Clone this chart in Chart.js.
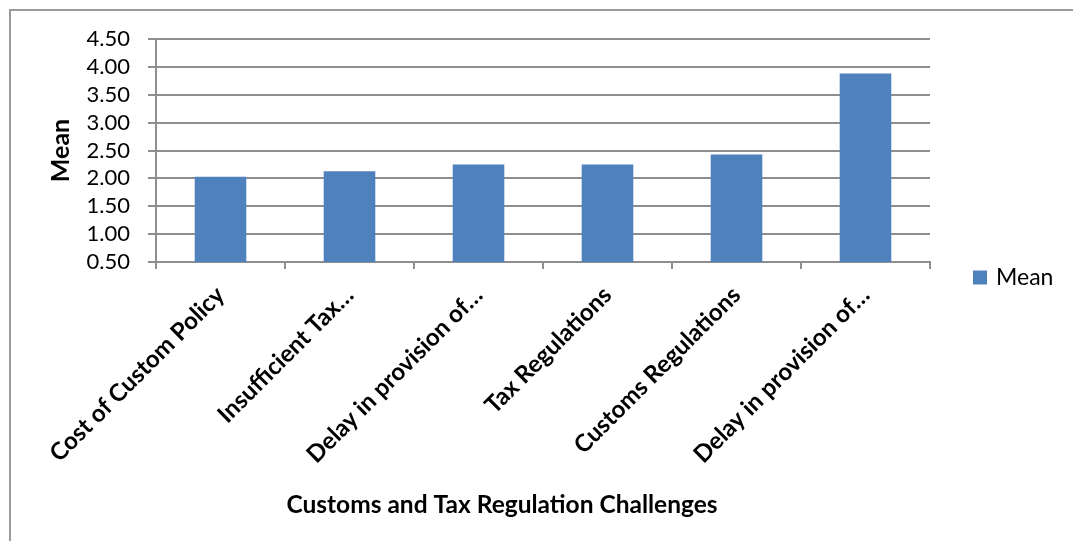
<!DOCTYPE html>
<html>
<head>
<meta charset="utf-8">
<script src="https://cdn.jsdelivr.net/npm/chart.js@4"></script>
<style>
    html, body { margin: 0; padding: 0; background: #fff; overflow: hidden; }
    #frame {
        position: absolute; left: 9px; top: 9px; width: 1100px; height: 560px;
        border: 2px solid #9a9a9a; box-sizing: border-box;
    }
    #wrap { position: absolute; left: 0; top: 0; width: 1073px; height: 541px; }
</style>
</head>
<body>
<div id="frame"></div>
<div id="wrap"><canvas id="meanChart"></canvas></div>
<script>
// categories as they appear on the axis (long names are cut off)
const categories = [
    'Cost of Custom Policy',
    'Insufficient Tax…',
    'Delay in provision of…',
    'Tax Regulations',
    'Customs Regulations',
    'Delay in provision of…'
];
const meanValues = [2.03, 2.13, 2.25, 2.25, 2.43, 3.88];
const yMin = 0.5;
const yMax = 4.5;
const yStep = 0.5;
const xTitle = 'Customs and Tax Regulation Challenges';
const yTitle = 'Mean';

const fontFamily = 'Lato, "Open Sans", sans-serif';
const gridColor = '#8e8e8e';
const barColor = '#4f81bd';

// x axis title and the legend sit off-centre, so they are drawn by hand
const extras = {
    id: 'extras',
    afterDraw(chart) {
        const c = chart.ctx;
        const area = chart.chartArea;
        const ds = chart.data.datasets[0];
        c.save();
        c.fillStyle = '#000';
        c.textBaseline = 'middle';

        c.font = 'bold 24.5px ' + fontFamily;
        c.textAlign = 'center';
        c.fillText(xTitle, area.left + 346, 505);

        const lx = area.right + 43;
        const ly = (area.top + area.bottom) / 2 + 127;
        c.fillStyle = ds.backgroundColor;
        c.fillRect(lx, ly - 7, 14, 14);
        c.fillStyle = '#000';
        c.textAlign = 'left';
        c.font = '23px ' + fontFamily;
        c.fillText(ds.label, lx + 23, ly);
        c.restore();
    }
};

const ctx = document.getElementById('meanChart');

new Chart(ctx, {
    type: 'bar',
    data: {
        labels: categories,
        datasets: [{
            label: 'Mean',
            data: meanValues,
            backgroundColor: barColor,
            borderWidth: 0,
            barPercentage: 0.4,
            categoryPercentage: 1.0
        }]
    },
    options: {
        responsive: true,
        maintainAspectRatio: false,
        animation: false,
        layout: {
            padding: { left: 10, top: 39, right: 143, bottom: 0 }
        },
        plugins: {
            tooltip: { enabled: false },
            legend: { display: false }
        },
        scales: {
            x: {
                grid: {
                    drawOnChartArea: false,
                    color: gridColor,
                    lineWidth: 2,
                    tickLength: 7
                },
                border: { color: gridColor, width: 2 },
                ticks: {
                    color: '#000',
                    minRotation: 45,
                    maxRotation: 45,
                    autoSkip: false,
                    padding: 12,
                    font: { family: fontFamily, size: 24, weight: 'bold' }
                },
                afterFit: scale => { scale.height = 279; }
            },
            y: {
                min: yMin,
                max: yMax,
                grid: {
                    color: gridColor,
                    lineWidth: 2,
                    tickLength: 8
                },
                border: { color: gridColor, width: 2 },
                ticks: {
                    stepSize: yStep,
                    autoSkip: false,
                    color: '#000',
                    padding: 18,
                    font: { family: fontFamily, size: 22 },
                    callback: v => v.toFixed(2)
                },
                title: {
                    display: true,
                    text: yTitle,
                    color: '#000',
                    padding: { top: 36, bottom: 0 },
                    font: { family: fontFamily, size: 25, weight: 'bold' }
                },
                afterFit: scale => { scale.width = 146; }
            }
        }
    },
    plugins: [extras]
});
</script>
</body>
</html>
